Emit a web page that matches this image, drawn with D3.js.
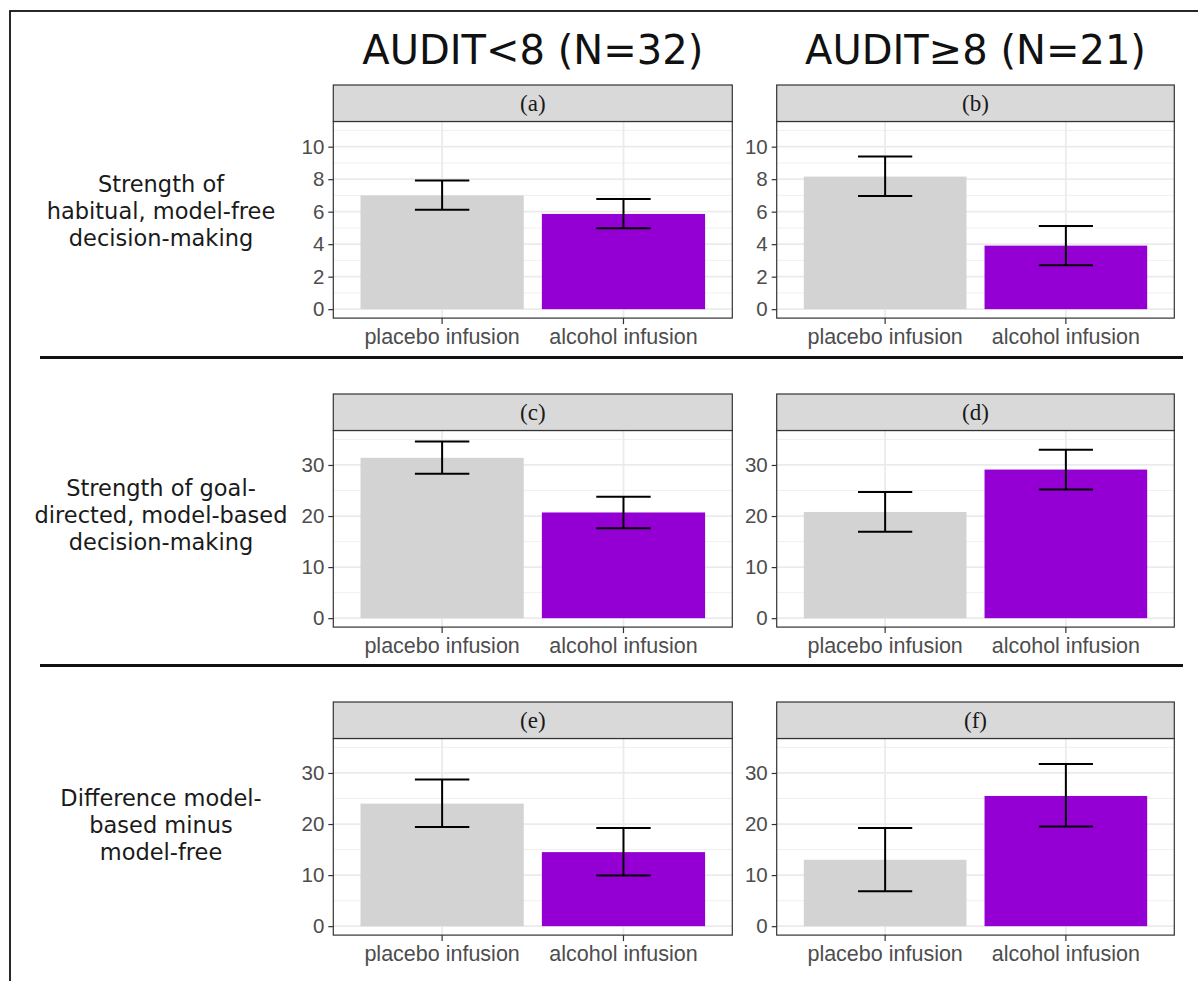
<!DOCTYPE html>
<html>
<head>
<meta charset="utf-8">
<script src="https://cdn.jsdelivr.net/npm/d3@7"></script>
<style>
  html, body { margin: 0; padding: 0; background: #fff; }
  svg { display: block; }
</style>
</head>
<body>
<svg id="chart" width="1198" height="981"></svg>
<script>
// ---------------- DATA ----------------
const groups = ["AUDIT<8 (N=32)", "AUDIT\u22658 (N=21)"];
const conditions = ["placebo infusion", "alcohol infusion"];
const rowLabels = [
  ["Strength of", "habitual, model-free", "decision-making"],
  ["Strength of goal-", "directed, model-based", "decision-making"],
  ["Difference model-", "based minus", "model-free"]
];
const panelLetters = ["(a)", "(b)", "(c)", "(d)", "(e)", "(f)"];
const rowLimits = [[0, 11], [0, 35], [0, 35]];
const rowBreaks = [[0, 2, 4, 6, 8, 10], [0, 10, 20, 30], [0, 10, 20, 30]];
const rowMinor = [[1, 3, 5, 7, 9, 11], [5, 15, 25, 35], [5, 15, 25, 35]];
// mean values per panel: [placebo, alcohol]
const means = [
  [7.0, 5.86], [8.16, 3.91],
  [31.4, 20.7], [20.8, 29.1],
  [24.0, 14.5], [13.0, 25.5]
];
const lowers = [
  [6.12, 4.98], [6.96, 2.70],
  [28.3, 17.6], [16.9, 25.2],
  [19.4, 9.9], [6.85, 19.5]
];
const uppers = [
  [7.92, 6.78], [9.39, 5.12],
  [34.6, 23.8], [24.7, 33.0],
  [28.7, 19.2], [19.2, 31.75]
];
const barColors = ["#d3d3d3", "#9400d3"];

// ---------------- LAYOUT ----------------
const svg = d3.select("#chart");
const colX = [[333.3, 732.3], [776.7, 1174.3]];
const stripTop = [85, 394, 702];
const stripH = 36.5;
const panelH = 196.6;
const labelFirstBaseline = [192, 496, 806];

// outer frame
svg.append("rect")
  .attr("x", 10).attr("y", 11)
  .attr("width", 1300).attr("height", 1100)
  .attr("fill", "none").attr("stroke", "#111").attr("stroke-width", 1.8);

// column headers
groups.forEach((g, ci) => {
  svg.append("text")
    .attr("x", (colX[ci][0] + colX[ci][1]) / 2)
    .attr("y", 64)
    .attr("text-anchor", "middle")
    .attr("font-family", "DejaVu Sans")
    .attr("font-size", 40)
    .attr("fill", "#111")
    .text(g);
});

// separators
[357.5, 665.5].forEach(y => {
  svg.append("line")
    .attr("x1", 40).attr("x2", 1183)
    .attr("y1", y).attr("y2", y)
    .attr("stroke", "#111").attr("stroke-width", 3);
});

// row labels
rowLabels.forEach((lines, ri) => {
  const t = svg.append("text")
    .attr("text-anchor", "middle")
    .attr("font-family", "DejaVu Sans")
    .attr("font-size", 22.5)
    .attr("fill", "#1a1a1a");
  lines.forEach((ln, li) => {
    t.append("tspan")
      .attr("x", 161)
      .attr("y", labelFirstBaseline[ri] + li * 27)
      .text(ln);
  });
});

// panels
for (let ri = 0; ri < 3; ri++) {
  for (let ci = 0; ci < 2; ci++) {
    const pi = ri * 2 + ci;
    const x0 = colX[ci][0], x1 = colX[ci][1];
    const sTop = stripTop[ri];
    const pTop = sTop + stripH;
    const pBot = pTop + panelH;

    const lim = rowLimits[ri];
    const ex = (lim[1] - lim[0]) * 0.05;
    const y = d3.scaleLinear().domain([lim[0] - ex, lim[1] + ex]).range([pBot, pTop]);
    // discrete axis with 0.6 expansion on each side
    const xc = d3.scaleLinear().domain([0.4, 2.6]).range([x0, x1]);
    const unit = xc(2) - xc(1);

    const g = svg.append("g");

    // panel background
    g.append("rect").attr("x", x0).attr("y", pTop)
      .attr("width", x1 - x0).attr("height", panelH).attr("fill", "#fff");

    // minor grid
    g.selectAll(".minor").data(rowMinor[ri].filter(v => y(v) >= pTop && y(v) <= pBot))
      .enter().append("line")
      .attr("x1", x0).attr("x2", x1)
      .attr("y1", d => y(d)).attr("y2", d => y(d))
      .attr("stroke", "#f0f0f0").attr("stroke-width", 1);
    // major grid
    g.selectAll(".major").data(rowBreaks[ri])
      .enter().append("line")
      .attr("x1", x0).attr("x2", x1)
      .attr("y1", d => y(d)).attr("y2", d => y(d))
      .attr("stroke", "#ebebeb").attr("stroke-width", 1.8);
    g.selectAll(".vmajor").data(conditions)
      .enter().append("line")
      .attr("x1", (d, i) => xc(i + 1)).attr("x2", (d, i) => xc(i + 1))
      .attr("y1", pTop).attr("y2", pBot)
      .attr("stroke", "#ebebeb").attr("stroke-width", 1.8);

    // bars
    g.selectAll(".bar").data(means[pi])
      .enter().append("rect")
      .attr("x", (d, i) => xc(i + 1) - 0.45 * unit)
      .attr("width", 0.9 * unit)
      .attr("y", d => y(d))
      .attr("height", d => y(0) - y(d))
      .attr("fill", (d, i) => barColors[i]);

    // error bars
    const eb = g.selectAll(".eb").data(means[pi].map((m, i) => ({ i, lo: lowers[pi][i], hi: uppers[pi][i] })))
      .enter().append("g");
    eb.append("line")
      .attr("x1", d => xc(d.i + 1)).attr("x2", d => xc(d.i + 1))
      .attr("y1", d => y(d.lo)).attr("y2", d => y(d.hi))
      .attr("stroke", "#000").attr("stroke-width", 2);
    eb.append("line")
      .attr("x1", d => xc(d.i + 1) - 0.15 * unit).attr("x2", d => xc(d.i + 1) + 0.15 * unit)
      .attr("y1", d => y(d.lo)).attr("y2", d => y(d.lo))
      .attr("stroke", "#000").attr("stroke-width", 2);
    eb.append("line")
      .attr("x1", d => xc(d.i + 1) - 0.15 * unit).attr("x2", d => xc(d.i + 1) + 0.15 * unit)
      .attr("y1", d => y(d.hi)).attr("y2", d => y(d.hi))
      .attr("stroke", "#000").attr("stroke-width", 2);

    // panel border
    g.append("rect").attr("x", x0).attr("y", pTop)
      .attr("width", x1 - x0).attr("height", panelH)
      .attr("fill", "none").attr("stroke", "#333").attr("stroke-width", 1.2);

    // strip
    g.append("rect").attr("x", x0).attr("y", sTop)
      .attr("width", x1 - x0).attr("height", stripH)
      .attr("fill", "#d9d9d9").attr("stroke", "#333").attr("stroke-width", 1.2);
    g.append("text")
      .attr("x", (x0 + x1) / 2).attr("y", sTop + stripH / 2 + 7.5)
      .attr("text-anchor", "middle")
      .attr("font-family", "Liberation Serif")
      .attr("font-size", 23)
      .attr("fill", "#1a1a1a")
      .text(panelLetters[pi]);

    // y axis
    const yAxis = d3.axisLeft(y).tickValues(rowBreaks[ri]).tickSize(5).tickPadding(4).tickFormat(d3.format("d"));
    const ya = g.append("g").attr("transform", `translate(${x0},0)`).call(yAxis);
    ya.select(".domain").remove();
    ya.selectAll(".tick line").attr("stroke", "#333").attr("stroke-width", 1.2);
    ya.selectAll(".tick text")
      .attr("font-family", "Liberation Sans")
      .attr("font-size", 20.5)
      .attr("fill", "#4d4d4d");

    // x axis
    const xb = d3.scaleBand().domain(conditions).range([xc(0.5), xc(2.5)]);
    const xAxis = d3.axisBottom(xb).tickSize(6).tickPadding(5);
    const xa = g.append("g").attr("transform", `translate(0,${pBot})`).call(xAxis);
    xa.select(".domain").remove();
    xa.selectAll(".tick line").attr("stroke", "#333").attr("stroke-width", 1.2);
    xa.selectAll(".tick text")
      .attr("font-family", "Liberation Sans")
      .attr("font-size", 21.5)
      .attr("fill", "#4d4d4d");
  }
}
</script>
</body>
</html>
